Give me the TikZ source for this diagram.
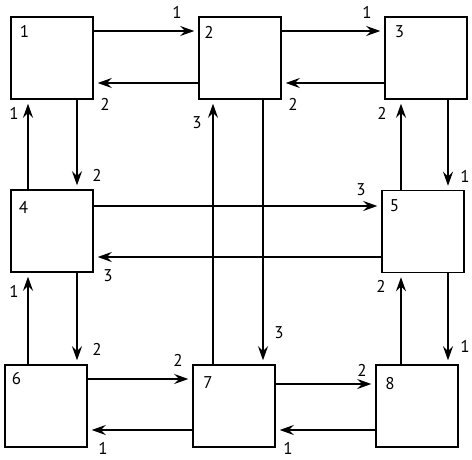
\documentclass[tikz,border=0pt]{standalone}
\usepackage{fontspec}
\setmainfont{PT Sans}
\usetikzlibrary{arrows.meta}

\tikzset{
  cell/.style={draw, line width=1.5pt, minimum size=82pt, inner sep=0pt},
  link/.style={line width=1.2pt, -{Stealth[length=14pt,width=10pt,inset=5pt]}, shorten >=4pt},
  tag/.style={font=\fontsize{17}{19}\selectfont, inner sep=0pt},
}

\begin{document}
\begin{tikzpicture}[x=1pt,y=-1pt]
  \useasboundingbox (0,0) rectangle (472,460);

  % boxes with their numbers
  \foreach \n/\x/\y/\lx/\ly in {1/52/58/24.5/31, 2/240/58/209/32, 3/426/58/399.5/31.5,
      4/52/231/23.5/207, 5/423/231.5/394.5/205.5,
      6/46/406/16.5/379, 7/234/406/208/382.5, 8/417/406/390/383.5} {
    \node[cell] (b\n) at (\x,\y) {};
    \node[tag] (t\n) at (\lx,\ly) {\n};
  }

  % horizontal links
  \foreach \a/\b/\y in {1/2/31, 2/3/31, 4/5/206, 6/7/379, 7/8/384}
    \draw[link] (b\a.east |- 0,\y) -- (b\b.west |- 0,\y);
  \foreach \a/\b/\y in {2/1/83, 3/2/83, 5/4/257, 7/6/430, 8/7/430}
    \draw[link] (b\a.west |- 0,\y) -- (b\b.east |- 0,\y);

  % vertical links
  \foreach \a/\b/\x in {1/4/77, 3/5/448, 2/7/263, 4/6/77, 5/8/448}
    \draw[link] (b\a.south -| \x,0) -- (b\b.north -| \x,0);
  \foreach \a/\b/\x in {4/1/28, 5/3/401, 7/2/213, 6/4/28, 8/5/401}
    \draw[link] (b\a.north -| \x,0) -- (b\b.south -| \x,0);

  % weights
  \foreach [count=\i] \x/\y/\t in {177/12/1, 105/104/2, 367/12/1, 293/104/2,
      14/113/1, 97/175/2, 197/123/3, 382/113/2, 465/176/1,
      361/190/3, 108/276/3, 14/291/1, 97/349/2, 279/333/3,
      381/286/2, 465/346/1, 178/360/2, 103/448/1, 362/370/2, 288/448/1}
    \node[tag] (e\i) at (\x,\y) {\t};
\end{tikzpicture}
\end{document}
